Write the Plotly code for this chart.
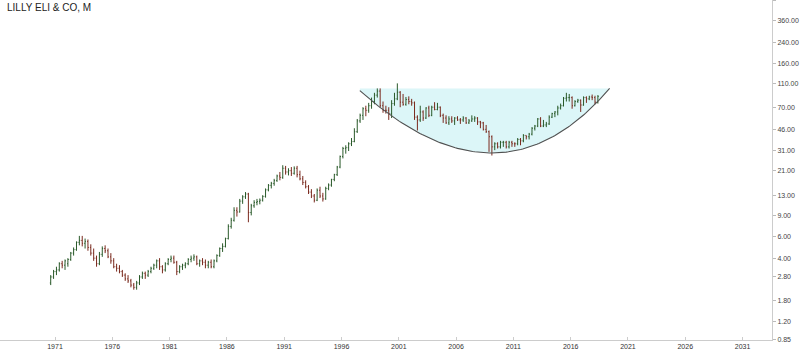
import numpy as np
import pandas as pd
import plotly.graph_objects as go

# ---- data: quarterly OHLC, 1970Q3 .. 2018Q2 ----
periods = pd.period_range("1970Q3", "2018Q2", freq="Q")

opens = [
    2.5, 2.8,
    3.1, 3.2, 3.6, 3.5,  3.6, 3.9, 4.4, 4.7,  5.4, 5.6, 5.3, 5.5,  4.9, 4.4, 4.0, 3.6,
    4.3, 4.8, 4.6, 4.1,  3.8, 3.4, 3.3, 3.1,  2.9, 2.7, 2.6, 2.4,  2.3, 2.5, 2.8, 3.0,
    2.9, 3.1, 3.3, 3.5,  3.8, 3.4, 3.2, 3.6,  3.9, 4.0, 3.7, 3.1,  3.4, 3.5, 3.6, 3.9,
    4.0, 4.1, 3.6, 3.8,  3.7, 3.5, 3.7, 3.4,  3.8, 4.2, 4.8, 5.0,  5.8, 7.3, 8.2, 9.9,
    9.6, 11.8, 12.8, 13.5,  9.5, 10.8, 11.5, 11.7,  12.0, 12.9, 14.6, 15.9,  16.5, 17.4, 19.0, 18.5,
    22.0, 20.5, 21.0, 20.0,  22.0, 19.5, 18.0, 16.8,  15.5, 14.0, 13.0, 12.0,  14.5, 13.0, 12.3, 15.0,
    16.0, 17.8, 19.5, 22.5,  27.5, 32.0, 32.5, 35.0,  36.5, 44, 54, 60,  68, 66, 72, 78,
    88, 95, 72, 66,  66, 62, 75, 82,  93, 77, 74, 81,  78, 76, 58, 55,
    64, 57, 69, 60,  70, 67, 70, 60,  57, 52, 56, 54,  57, 55, 55, 57,
    52, 54, 56, 57,  53, 52, 46, 44,  40, 33, 35, 33,  36, 36, 33, 36,
    35, 35, 38, 37,  41, 40, 42, 47,  49, 56, 49, 50,  51, 58, 62, 64,
    69, 72, 83, 84,  84, 72, 78, 80,  73, 84, 82, 85,  84, 77,
]
highs = [
    2.9, 3.2,
    3.4, 3.7, 3.8, 3.9,  4.0, 4.5, 4.9, 5.5,  6.1, 6.1, 5.8, 5.7,  5.2, 4.8, 4.2, 4.5,
    5.0, 5.1, 4.8, 4.4,  4.0, 3.6, 3.5, 3.2,  3.0, 2.9, 2.7, 2.5,  2.6, 2.9, 3.1, 3.1,
    3.2, 3.4, 3.6, 3.9,  4.0, 3.5, 3.7, 4.0,  4.2, 4.2, 3.8, 3.5,  3.6, 3.7, 4.0, 4.2,
    4.3, 4.2, 3.9, 4.0,  3.9, 3.8, 3.9, 3.9,  4.3, 4.9, 5.3, 5.9,  7.6, 8.6, 10.5, 10.5,
    12.3, 13.2, 14.0, 13.8,  11.2, 12.0, 12.3, 12.4,  13.2, 15.0, 16.3, 17.0,  18.0, 19.5, 20.5, 23.3,
    23.0, 22.0, 22.5, 22.8,  23.0, 21.0, 19.0, 17.5,  16.0, 14.8, 13.5, 15.0,  15.5, 13.8, 15.5, 16.5,
    18.0, 19.8, 23.0, 28.0,  33.0, 34.0, 36.0, 39.0,  47, 56, 62, 70,  72, 76, 84, 92,
    100, 100, 78, 72,  70, 80, 92, 110,  95, 90, 85, 86,  82, 78, 60, 72,
    66, 70, 72, 72,  77, 76, 71, 62,  60, 59, 59, 58,  59, 57, 59, 58,
    56, 60, 59, 58,  54, 53, 50, 45,  41, 36, 36, 37,  37, 37, 37, 37,
    36, 39, 39, 42,  41, 43, 48, 50,  57, 58, 55, 53,  60, 63, 65, 72,
    75, 85, 92, 90,  86, 80, 82, 81,  86, 86, 87, 89,  87, 88,
]
lows = [
    2.4, 2.7,
    2.9, 3.1, 3.3, 3.2,  3.4, 3.8, 4.2, 4.6,  5.1, 5.0, 4.8, 4.6,  4.2, 3.8, 3.4, 3.5,
    4.1, 4.4, 4.0, 3.6,  3.3, 3.1, 3.0, 2.8,  2.6, 2.5, 2.3, 2.2,  2.2, 2.4, 2.7, 2.7,
    2.8, 3.0, 3.2, 3.3,  3.2, 3.0, 3.1, 3.5,  3.7, 3.6, 2.9, 3.0,  3.2, 3.3, 3.5, 3.7,
    3.8, 3.5, 3.4, 3.5,  3.3, 3.3, 3.3, 3.3,  3.7, 4.1, 4.5, 4.9,  5.7, 7.0, 8.0, 8.8,
    9.5, 11.2, 12.3, 7.9,  9.0, 10.4, 10.9, 11.1,  11.7, 12.6, 14.2, 15.0,  15.8, 17.0, 17.5, 18.0,
    19.5, 19.2, 19.0, 19.5,  18.5, 17.5, 16.0, 15.0,  13.5, 12.5, 11.5, 11.8,  12.5, 11.7, 12.1, 14.5,
    15.5, 17.2, 19.0, 22.0,  26.5, 29.0, 30.5, 33.5,  36, 43, 52, 55,  59, 63, 68, 74,
    84, 70, 63, 62,  55, 57, 72, 80,  70, 72, 72, 74,  72, 55, 45, 53,
    54, 56, 58, 59,  66, 66, 58, 52,  51, 50, 52, 50,  54, 51, 53, 51,
    51, 53, 53, 50,  47, 45, 43, 30,  28, 31, 32, 32,  33, 32, 32, 33,
    33, 34, 34, 36,  38, 38, 41, 45,  48, 48, 48, 48,  50, 57, 58, 60,
    67, 71, 78, 78,  68, 71, 76, 64,  72, 76, 80, 80,  74, 75,
]
closes = [
    2.8, 3.1,
    3.2, 3.6, 3.5, 3.8,  3.9, 4.4, 4.7, 5.4,  5.6, 5.3, 5.5, 4.9,  4.4, 4.0, 3.6, 4.3,
    4.8, 4.6, 4.1, 3.8,  3.4, 3.3, 3.1, 2.9,  2.7, 2.6, 2.4, 2.3,  2.5, 2.8, 3.0, 2.9,
    3.1, 3.3, 3.5, 3.8,  3.4, 3.2, 3.6, 3.9,  4.0, 3.7, 3.1, 3.4,  3.5, 3.6, 3.9, 4.0,
    4.1, 3.6, 3.8, 3.7,  3.5, 3.7, 3.4, 3.8,  4.2, 4.8, 5.0, 5.8,  7.3, 8.2, 9.9, 9.6,
    11.8, 12.8, 13.5, 9.5,  10.8, 11.5, 11.7, 12.0,  12.9, 14.6, 15.9, 16.5,  17.4, 19.0, 18.5, 22.0,
    20.5, 21.0, 20.0, 22.0,  19.5, 18.0, 16.8, 15.5,  14.0, 13.0, 12.0, 14.5,  13.0, 12.3, 15.0, 16.0,
    17.8, 19.5, 22.5, 27.5,  32.0, 32.5, 35.0, 36.5,  44, 54, 60, 68,  66, 72, 78, 88,
    95, 72, 66, 66,  62, 75, 82, 93,  77, 74, 81, 78,  76, 58, 55, 64,
    57, 69, 60, 70,  67, 70, 60, 57,  52, 56, 54, 57,  55, 55, 57, 52,
    54, 56, 57, 53,  52, 46, 44, 40,  33, 35, 33, 36,  36, 33, 36, 35,
    35, 38, 37, 41,  40, 42, 47, 49,  56, 49, 50, 51,  58, 62, 64, 69,
    72, 83, 84, 84,  72, 78, 80, 73,  84, 82, 85, 84,  77, 86,
]

tick_years = [1971, 1976, 1981, 1986, 1991, 1996, 2001, 2006, 2011, 2016, 2021, 2026, 2031]
tick_labels = [str(y) for y in tick_years]
price_ticks = [0.85, 1.2, 1.8, 2.8, 4, 6, 9, 13, 21, 31, 46, 70, 110, 160, 240, 360, 530]
price_labels = [f"{v:.2f}" for v in price_ticks]

# cup annotation (start/end/bottom of the drawn cup, and its rim level)
cup_left_year, cup_left_price = 1997.6, 96
cup_right_year, cup_right_price = 2019.4, 100
cup_bottom_year, cup_bottom_price = 2009.2, 29.4
cup_rim_price = 100

title = "LILLY ELI & CO, M"

# ---- build ----
x = [p.year + (p.quarter - 1) / 4 + 0.125 for p in periods]

# cup arc: quadratic curve in (year, log price) space
y0, y2, yb = np.log10(cup_left_price), np.log10(cup_right_price), np.log10(cup_bottom_price)
cx = 2 * cup_bottom_year - (cup_left_year + cup_right_year) / 2
cy = 2 * yb - (y0 + y2) / 2
t = np.linspace(0, 1, 120)
arc_x = (1 - t) ** 2 * cup_left_year + 2 * t * (1 - t) * cx + t ** 2 * cup_right_year
arc_y = 10 ** ((1 - t) ** 2 * y0 + 2 * t * (1 - t) * cy + t ** 2 * y2)

fill_pts = [(cup_left_year, cup_rim_price), (cup_right_year, cup_rim_price)] + \
    list(zip(arc_x[::-1], arc_y[::-1]))
fill_path = "M " + " L ".join(f"{a:.4f},{b:.4f}" for a, b in fill_pts) + " Z"

fig = go.Figure()
fig.add_trace(go.Ohlc(x=x, open=opens, high=highs, low=lows, close=closes,
                      increasing=dict(line=dict(color="#2a5a2a", width=1)),
                      decreasing=dict(line=dict(color="#7a2a1e", width=1)),
                      tickwidth=0.3, showlegend=False))
fig.add_trace(go.Scatter(x=arc_x, y=arc_y, mode="lines", line=dict(color="#505050", width=1.1),
                         hoverinfo="skip", showlegend=False))

fig.update_layout(
    width=800, height=355,
    margin=dict(l=0, r=28, t=0, b=15),
    paper_bgcolor="white", plot_bgcolor="white",
    font=dict(family="Liberation Sans", size=7, color="#444"),
    xaxis=dict(range=[1966.2, 2033.57], tickvals=tick_years, ticktext=tick_labels,
               showgrid=False, zeroline=False, showline=True, linecolor="#cccccc",
               ticks="inside", ticklen=3, tickcolor="#cccccc", rangeslider=dict(visible=False),
               tickfont=dict(size=7, color="#333"), automargin=False),
    yaxis=dict(type="log", side="right", range=[-0.072, 2.728], tickvals=price_ticks,
               ticktext=price_labels, showgrid=False, zeroline=False, showline=True,
               linecolor="#cccccc", ticks="outside", ticklen=3, tickcolor="#bbbbbb",
               tickfont=dict(size=7, color="#444"), automargin=False),
    shapes=[dict(type="path", path=fill_path, xref="x", yref="y", layer="below",
                 fillcolor="#dcf6f8", line=dict(width=0))],
    annotations=[dict(text=title, xref="paper", yref="paper", x=0.007, y=1.0,
                      xanchor="left", yanchor="top", showarrow=False,
                      font=dict(family="Liberation Sans", size=10, color="#222"))],
)

fig.write_html("out.html")
